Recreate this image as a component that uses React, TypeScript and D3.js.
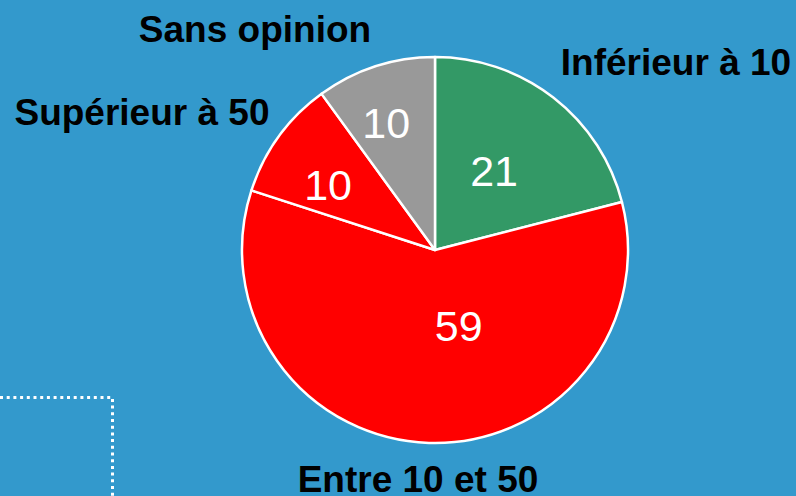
import { useEffect, useRef } from "react";
import * as d3 from "d3";

const categories = ["Inférieur à 10", "Entre 10 et 50", "Supérieur à 50", "Sans opinion"];
const values = [21, 59, 10, 10];
const colors = ["#339966", "#ff0000", "#ff0000", "#999999"];

const width = 796;
const height = 496;
const cx = 435;
const cy = 250;
const radius = 193;

// Excel-style label nudges (px) from the 0.55r centroid
const valueNudges = [
  [-6, 4],
  [27, -31],
  [-21, -3],
  [-16, -27],
];

// category label anchors: [x centre, baseline]
const nameSpots = [
  [676, 75],
  [418, 492],
  [142, 125],
  [255, 42],
];

const App = () => {
  const svgRef = useRef(null);

  useEffect(() => {
    const svg = d3.select(svgRef.current);
    svg.selectAll("*").remove();

    svg
      .append("rect")
      .attr("width", width)
      .attr("height", height)
      .attr("fill", "#3399cc");

    // dotted frame corner bottom-left
    svg
      .append("path")
      .attr("d", "M0,397.5H112.5V496")
      .attr("fill", "none")
      .attr("stroke", "#ffffff")
      .attr("stroke-width", 3)
      .attr("stroke-dasharray", "3,3.7");

    const pie = d3
      .pie<number>()
      .sort(null)
      .value((d) => d);
    const arcs = pie(values);

    const arc = d3.arc<d3.PieArcDatum<number>>().innerRadius(0).outerRadius(radius);
    const labelArc = d3
      .arc<d3.PieArcDatum<number>>()
      .innerRadius(radius * 0.55)
      .outerRadius(radius * 0.55);

    const g = svg.append("g").attr("transform", `translate(${cx},${cy})`);

    g.selectAll("path.slice")
      .data(arcs)
      .enter()
      .append("path")
      .attr("class", "slice")
      .attr("d", arc)
      .attr("fill", (d, i) => colors[i])
      .attr("stroke", "#ffffff")
      .attr("stroke-width", 2.5)
      .attr("stroke-linejoin", "round");

    g.selectAll("text.val")
      .data(arcs)
      .enter()
      .append("text")
      .attr("class", "val")
      .attr("x", (d, i) => labelArc.centroid(d)[0] + valueNudges[i][0])
      .attr("y", (d, i) => labelArc.centroid(d)[1] + valueNudges[i][1])
      .attr("dy", "0.36em")
      .attr("text-anchor", "middle")
      .attr("fill", "#ffffff")
      .attr("font-family", "Liberation Sans, Arial, sans-serif")
      .attr("font-size", "43px")
      .text((d) => d.data);

    svg
      .selectAll("text.name")
      .data(categories)
      .enter()
      .append("text")
      .attr("class", "name")
      .attr("x", (d, i) => nameSpots[i][0])
      .attr("y", (d, i) => nameSpots[i][1])
      .attr("text-anchor", "middle")
      .attr("fill", "#000000")
      .attr("font-family", "Liberation Sans, Arial, sans-serif")
      .attr("font-weight", "bold")
      .attr("font-size", "37px")
      .text((d) => d);
  }, []);

  return (
    <svg
      ref={svgRef}
      width={width}
      height={height}
      style={{ position: "absolute", left: 0, top: 0, display: "block" }}
    ></svg>
  );
};

export default App;
